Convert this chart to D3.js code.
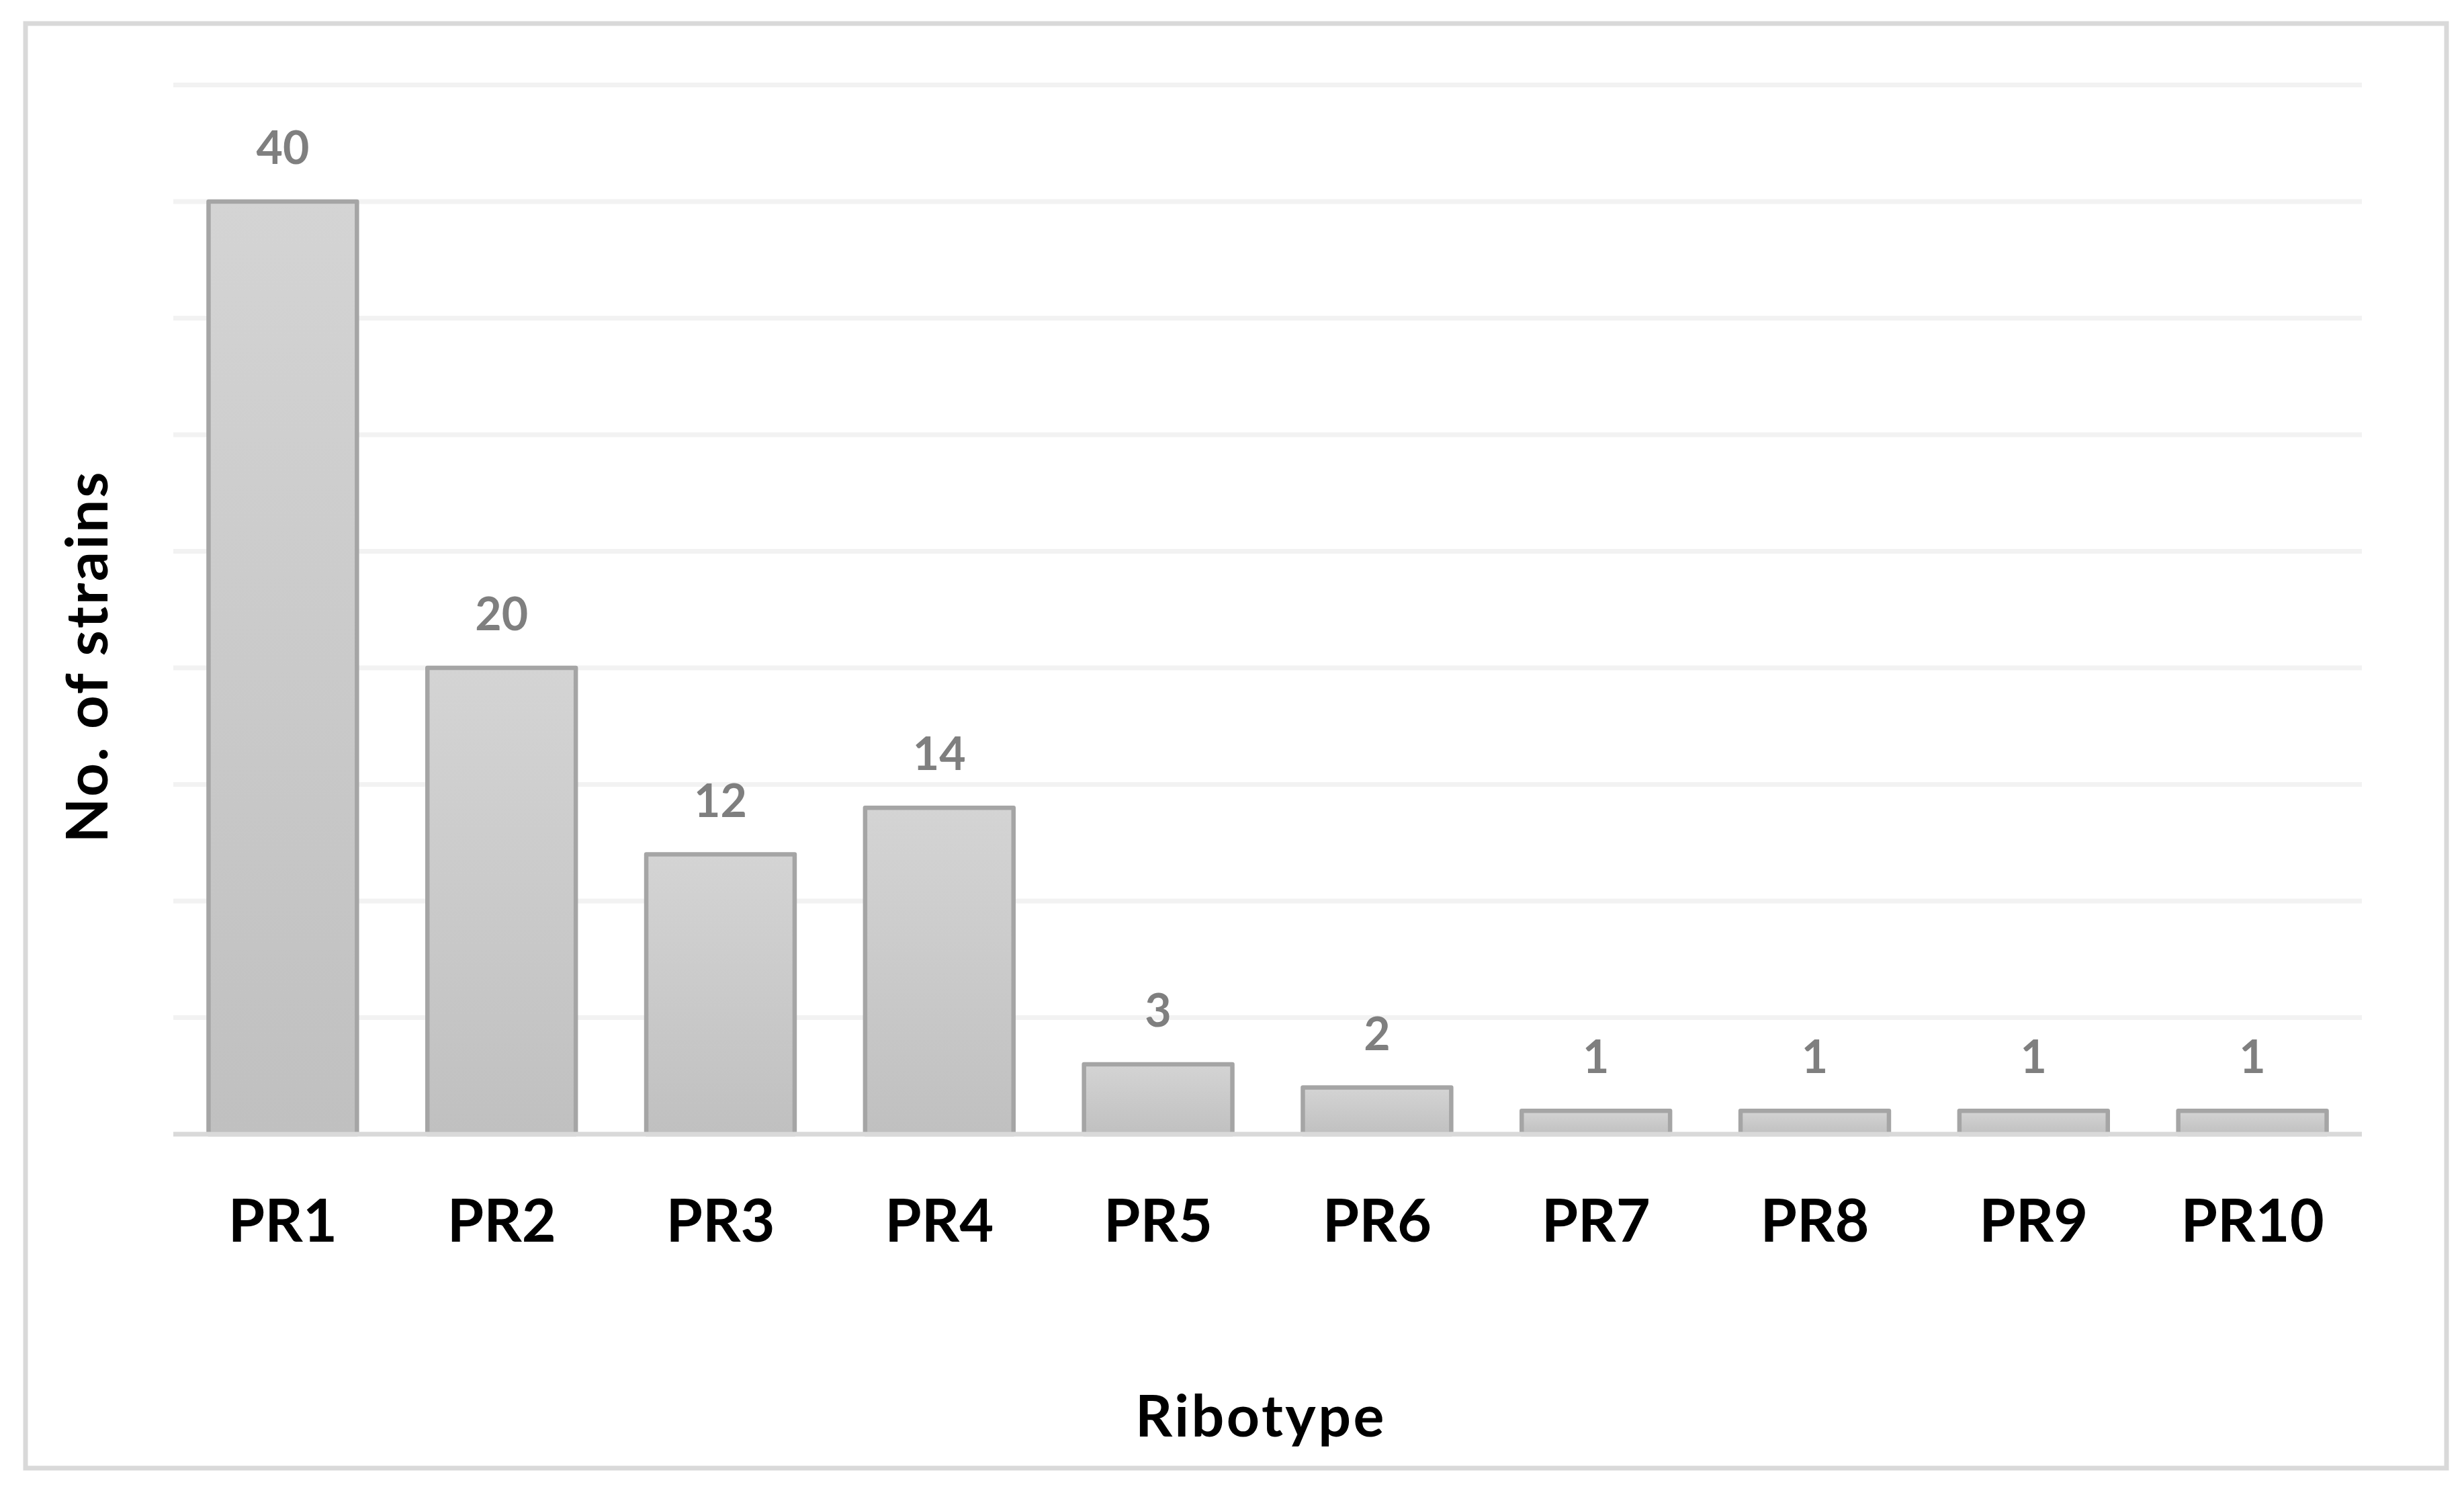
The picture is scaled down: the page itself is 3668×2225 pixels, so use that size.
<!DOCTYPE html>
<html>
<head>
<meta charset="utf-8">
<script src="https://cdn.jsdelivr.net/npm/d3@7"></script>
<style>
  html, body { margin: 0; padding: 0; background: #ffffff; }
  svg { display: block; }
</style>
</head>
<body>
<script>
const categories = ["PR1", "PR2", "PR3", "PR4", "PR5", "PR6", "PR7", "PR8", "PR9", "PR10"];
const values = [40, 20, 12, 14, 3, 2, 1, 1, 1, 1];
const gridTicks = [5, 10, 15, 20, 25, 30, 35, 40, 45];
const xTitle = "Ribotype";
const yTitle = "No. of strains";

const W = 3668, H = 2225;
const FONT = "Lato, 'Open Sans', 'Noto Sans', sans-serif";

const svg = d3.select("body").append("svg")
  .attr("width", W).attr("height", H)
  .attr("viewBox", `0 0 ${W} ${H}`);

// gradient for bars
const defs = svg.append("defs");
const grad = defs.append("linearGradient")
  .attr("id", "barGrad").attr("x1", 0).attr("y1", 0).attr("x2", 0).attr("y2", 1);
grad.append("stop").attr("offset", "0%").attr("stop-color", "#d4d4d4");
grad.append("stop").attr("offset", "100%").attr("stop-color", "#c0c0c0");

// chart border
svg.append("rect")
  .attr("x", 38).attr("y", 35).attr("width", 3604).attr("height", 2150)
  .attr("fill", "#ffffff").attr("stroke", "#d9d9d9").attr("stroke-width", 7);

const x = d3.scaleBand()
  .domain(categories)
  .range([258, 3516])
  .paddingInner(0.322)
  .paddingOuter(0.161);

const y = d3.scaleLinear().domain([0, 45]).range([1688, 126.5]);

// gridlines
svg.append("g")
  .selectAll("line")
  .data(gridTicks)
  .join("line")
  .attr("x1", 258).attr("x2", 3516)
  .attr("y1", d => y(d)).attr("y2", d => y(d))
  .attr("stroke", "#f2f2f2").attr("stroke-width", 7);

// bars
svg.append("g")
  .selectAll("rect")
  .data(values)
  .join("rect")
  .attr("x", (d, i) => x(categories[i]))
  .attr("y", d => y(d))
  .attr("width", x.bandwidth())
  .attr("height", d => y(0) - y(d))
  .attr("fill", "url(#barGrad)")
  .attr("stroke", "#a5a5a5")
  .attr("stroke-width", 6.5)
  .attr("stroke-linejoin", "round");

// baseline axis
const xAxis = d3.axisBottom(x).tickSize(0).tickPadding(0);
const gx = svg.append("g").attr("transform", `translate(0,${y(0)})`).call(xAxis);
gx.select(".domain").attr("stroke", "#d9d9d9").attr("stroke-width", 7)
  .attr("d", `M258,0H3516`);
gx.selectAll(".tick text")
  .attr("y", 1848 - y(0))
  .attr("dy", null)
  .attr("fill", "#000000")
  .style("font-family", FONT)
  .style("font-weight", "bold")
  .style("font-size", "88px");

// data labels
svg.append("g")
  .selectAll("text")
  .data(values)
  .join("text")
  .attr("x", (d, i) => x(categories[i]) + x.bandwidth() / 2)
  .attr("y", d => y(d) - 56)
  .attr("text-anchor", "middle")
  .attr("fill", "#7f7f7f")
  .style("font-family", FONT)
  .style("font-weight", "bold")
  .style("font-size", "68px")
  .text(d => d);

// axis titles
svg.append("text")
  .attr("x", 1877).attr("y", 2138)
  .attr("text-anchor", "middle")
  .attr("fill", "#000000")
  .style("font-family", FONT)
  .style("font-weight", "bold")
  .style("font-size", "86px")
  .style("letter-spacing", "3.5px")
  .text(xTitle);

svg.append("text")
  .attr("transform", "translate(160,977) rotate(-90)")
  .attr("text-anchor", "middle")
  .attr("fill", "#000000")
  .style("font-family", FONT)
  .style("font-weight", "bold")
  .style("font-size", "87px")
  .style("letter-spacing", "3px")
  .text(yTitle);
</script>
</body>
</html>
